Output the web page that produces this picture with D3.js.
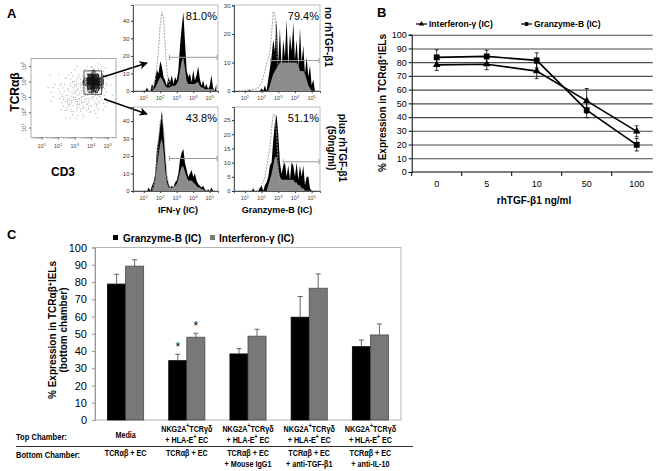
<!DOCTYPE html>
<html><head><meta charset="utf-8">
<script src="https://cdn.jsdelivr.net/npm/d3@7"></script>
<style>
body{margin:0;background:#fff}
svg{display:block}
text{font-family:"Liberation Sans",Arial,Helvetica,sans-serif}
</style>
</head><body>
<svg id="c" width="664" height="471"></svg>
<script>
// ================= DATA =================
// Panel A: histogram bins (log10 of fluorescence)
const histBins = [0.4,0.5,0.6,0.7,0.8,0.9,1.0,1.1,1.2,1.3,1.4,1.5,1.6,1.7,1.8,1.9,2.0,2.1,2.2,2.3,2.4,2.5,2.6,2.7,2.8,2.9,3.0,3.1,3.2,3.3,3.4,3.5,3.6,3.7,3.8,3.9,4.0,4.1,4.2,4.3,4.4,4.5,4.6,4.7,4.8,4.9,5.0,5.1,5.2,5.3,5.4];
const decadeTicks = [1,2,3,4,5];
const decadeLabels = ["10^1","10^2","10^3","10^4","10^5"];
// IFN-γ, no rhTGF-β1
const ifnNoCtrl = [0,0,0,0,0,0,0,0,0,0,0, 1,3,6,14,24, 38,45,42,26,12, 5,2,1,0,0, 0,0,0,0,0, 0,0,0,0,0, 0,0,0,0,0, 0,0,0,0,0, 0,0,0,0,0];
const ifnNoSample = [0,0,0,0,0,0,0,0, 2,0,0,4,2,8,12,10, 17,14,8,6,3, 8,5,9,4,8, 6,12,26,36,45, 28,12,8,10,5, 12,6,9,14,7, 3,6,2,4,1, 3,9,2,0,4];
const ifnNoSmooth = [0,0,0,0,0,0,0,0,0,0,0,0, 1,2,4,6, 8,7,5,3,2, 2,2,3,3,3, 4,6,12,17,19, 13,6,4,4,4, 4,4,5,5,3, 2,2,1,1,1, 1,1,1,0,0];
// Granzyme-B, no rhTGF-β1
const gzbNoCtrl = [0,0,0,0,0,0, 0.3,0,0.5,0,0.5, 0.5,0.5,1,1,2, 3,5,7,10,11, 14,20,28,27,16, 6,2,0.5, 0,0,0,0,0,0,0,0,0,0,0,0,0,0,0,0,0,0,0,0,0,0,0];
const gzbNoSample = [0,0,0,0,0,0,0,0,0, 0.5, 0,0,0,0,0,0, 1,0,2,0,4, 8,12,18,14,25, 10,22,8,18,12, 25,9,20,14,24, 11,18,8,22,10, 16,6,12,5,9, 2,4,0,0,0];
const gzbNoSmooth = [0,0,0,0,0,0,0,0,0,0,0,0,0,0,0,0,0,0,0,0,0, 2,4,6,7,8, 9,10,10,10,10, 10,10,10,10,10, 10,10,9,7,7, 7,6,4,2,1, 0,0,0,0,0];
// IFN-γ, plus rhTGF-β1
const ifnPlusCtrl = [0,0,0,0,0,0,0,0,0,0,0, 1,3,8,18,30, 40,42,36,22,10, 4,1, 0,0,0,0,0,0,0,0,0,0,0,0,0,0,0,0,0,0,0,0,0,0,0,0,0,0,0,0];
const ifnPlusSample = [0,0,0,0,0,0,0,0,0, 2,0,3,5,10,24,30, 38,46,34,20,8, 4,2,3,2,5, 6,10,18,22,24, 16,12,8,10,12, 8,10,6,4,3, 2,3,1,0,1, 0,2,0,0,0];
const ifnPlusSmooth = [0,0,0,0,0,0,0,0,0,0,0,0, 2,6,14,21, 27,30,23,12,5, 2,2,2,2,3, 4,7,11,14,14, 11,8,6,6,6, 5,4,3,2,2, 1,1, 0,0,0,0,0,0,0,0];
// Granzyme-B, plus rhTGF-β1
const gzbPlusCtrl = [0,0,0,0,0,0,0,0,0,0,0, 0.5,0,0,1,1, 2,3,5,8,12, 15,22,27,27,20, 8,2, 0,0,0,0,0,0,0,0,0,0,0,0,0,0,0,0,0,0,0,0,0,0,0];
const gzbPlusSample = [0,0,0,0,0,0,0,0,0,0,0, 1,0,0,0,1, 2,0,2,3,5, 9,10,18,24,27, 20,10,6,9,10, 5,9,4,10,9, 5,10,4,9,5, 9,2,5,5,1, 0,0,0,0,0];
const gzbPlusSmooth = [0,0,0,0,0,0,0,0,0,0,0,0,0,0,0,0,0,0,0,0, 2,4,6,9,12, 12,8,5,4,4, 4,4,4,4,4, 4,3,3,2,2, 1,1, 0,0,0,0,0,0,0,0,0];
const histPercents = ["81.0%","79.4%","43.8%","51.1%"];
const gateLevels = [19.2,10.7,18.6,10.3];   // height of the gate bar (counts)
const gateStarts = [2.56,2.55,2.56,3.3];    // log10 start of gate

// Panel A scatter: CD3 vs TCRαβ density cells [log x start, log y start, event count]
const scatterCells = [
 [1.0,3.5,1],[1.5,3.5,2],[1.5,3.0,2],[1.5,2.5,1],[1.5,4.0,1],
 [2.0,2.0,3],[2.0,2.5,5],[2.0,3.0,5],[2.0,3.5,5],[2.0,4.0,2],[2.0,1.5,1],
 [2.5,1.5,2],[2.5,2.0,8],[2.5,2.5,10],[2.5,3.0,7],[2.5,3.5,7],[2.5,4.0,5],[2.5,4.5,1],
 [3.0,1.5,3],[3.0,2.0,9],[3.0,2.5,12],[3.0,3.0,8],[3.0,3.5,9],[3.0,4.0,7],[3.0,4.5,2],
 [3.5,1.5,2],[3.5,2.0,7],[3.5,2.5,9],[3.5,3.0,10],[3.5,3.5,9],[3.5,4.0,9],[3.5,4.5,5],
 [4.0,1.5,2],[4.0,2.0,5],[4.0,2.5,8],[4.0,3.0,14],[4.0,4.5,7],[4.0,5.0,1],
 [4.5,2.0,2],[4.5,2.5,4],[4.5,3.0,6],[4.5,3.5,6],[4.5,4.0,5],[4.5,4.5,3],[5.0,3.0,1],[5.0,3.5,1]
];
const clusterCells = [
 [4.0,3.75,60],[4.0,4.0,60],[3.75,3.75,40],[3.75,4.0,40],[4.25,3.75,45],[4.25,4.0,45],
 [4.0,3.5,40],[4.0,4.25,35],[3.75,3.5,20],[4.25,3.5,25],[3.75,4.25,20],[4.25,4.25,20],
 [4.0,3.25,15],[4.5,3.75,12],[4.5,4.0,12],[3.5,3.75,10],[3.5,4.0,8],[4.0,4.5,10],
 [3.75,3.25,8],[4.25,3.25,10],[4.5,3.5,8],[4.5,4.25,6]
];
const gateBox = [3.56,4.63,3.17,4.69]; // x0,x1,y0,y1 (log)

// Panel B
const bCats = ["0","5","10","50","100"];
const bIfn = [78,78.5,73.5,51.8,29.6];
const bIfnErr = [4,4,5.5,9,4];
const bGzb = [83.5,84.2,81.3,45.1,19.8];
const bGzbErr = [5.5,4.5,5.5,5.5,4.5];
const bTicks = [0,10,20,30,40,50,60,70,80,90,100];

// Panel C
const cGroups = ["g1","g2","g3","g4","g5"];
const cGzb = [78.8,34.4,38.3,59.6,42.5];
const cGzbErr = [5.7,3.7,3.1,12,3.9];
const cIfn = [89.2,48,48.6,76.4,49.3];
const cIfnErr = [3.7,2.3,4,8.3,6.4];
const cSig = [[1,"gzb"],[1,"ifn"]];
const cTicks = [0,10,20,30,40,50,60,70,80,90,100];
const topChamber = [["Media"],["NKG2A^+TCRγδ","+ HLA-E^+ EC"],["NKG2A^+TCRγδ","+ HLA-E^+ EC"],["NKG2A^+TCRγδ","+ HLA-E^+ EC"],["NKG2A^+TCRγδ","+ HLA-E^+ EC"]];
const bottomChamber = [["TCRαβ + EC"],["TCRαβ + EC"],["TCRαβ + EC","+ Mouse IgG1"],["TCRαβ + EC","+ anti-TGF-β1"],["TCRαβ + EC","+ anti-IL-10"]];

// ================= HELPERS =================
const svg = d3.select("#c");
function rich(t, str, supSize){
  const re = /\^(.)/g; let last = 0, m;
  while ((m = re.exec(str))) {
    if (m.index > last) t.append("tspan").text(str.slice(last, m.index));
    t.append("tspan").attr("baseline-shift","super").attr("font-size", supSize).text(m[1]);
    last = re.lastIndex;
  }
  if (last < str.length) t.append("tspan").text(str.slice(last));
  return t;
}
function narrow(x, y, str, anchor, size){
  return rich(svg.append("text").attr("transform",`translate(${x},${y}) scale(0.8,1)`).attr("text-anchor",anchor)
    .attr("font-size",size).attr("font-weight","bold"), str, size*0.7);
}
function styleAxis(g, size, color){
  g.selectAll("text").attr("font-size", size).attr("fill", color || "#000").attr("font-family",'"Liberation Sans",Arial,sans-serif');
  g.selectAll("line").attr("stroke", color || "#000");
  g.selectAll("path.domain").attr("stroke", color || "#000");
}
const minorLogs = [];
[0,1,2,3,4,5].forEach(d => [2,3,4,5,6,7,8,9].forEach(k => { const v = d + Math.log10(k); if (v > 0.36 && v < 5.5) minorLogs.push(v); }));

// ================= PANEL A =================
svg.append("text").attr("x",7).attr("y",18).attr("font-size",13).attr("font-weight","bold").text("A");

// scatter
(function(){
  const X0=31, X1=116, Y0=58.5, Y1=137.5;
  const x = d3.scaleLinear().domain([0.35,5.5]).range([X0,X1]);
  const y = d3.scaleLinear().domain([0.35,5.5]).range([Y1,Y0]);
  const g = svg.append("g");
  g.append("rect").attr("x",X0).attr("y",Y0).attr("width",X1-X0).attr("height",Y1-Y0).attr("fill","none").attr("stroke","#999").attr("stroke-width",0.8);
  const dots = [];
  function place(cells, size, color, seed){
    cells.forEach((c, ci) => {
      for (let k = 0; k < c[2]; k++) {
        const n = k + ci * 13 + seed;
        const u = (0.5 + n * 0.7548776662) % 1;
        const v = (0.5 + n * 0.5698402910) % 1;
        dots.push({x: c[0] + u * size, y: c[1] + v * size, color});
      }
    });
  }
  place(scatterCells, 0.5, "#a5a5a5", 3);
  place(clusterCells, 0.25, "#111", 11);
  g.selectAll("rect.dot").data(dots).join("rect").attr("class","dot")
    .attr("x", d => x(d.x) - 0.5).attr("y", d => y(d.y) - 0.5)
    .attr("width", 1).attr("height", 1).attr("fill", d => d.color);
  // gate
  g.append("rect").attr("x", x(gateBox[0])).attr("y", y(gateBox[3])).attr("width", x(gateBox[1]) - x(gateBox[0])).attr("height", y(gateBox[2]) - y(gateBox[3]))
    .attr("fill","none").attr("stroke","#333").attr("stroke-width",0.8);
  // axes
  const ax = g.append("g").attr("transform",`translate(0,${Y1})`).call(d3.axisBottom(x).tickValues(decadeTicks).tickSize(2).tickFormat(""));
  styleAxis(ax, 5, "#666"); ax.select("path.domain").remove();
  const axm = g.append("g").attr("transform",`translate(0,${Y1})`).call(d3.axisBottom(x).tickValues(minorLogs).tickSize(1).tickFormat(""));
  styleAxis(axm, 5, "#888"); axm.select("path.domain").remove();
  decadeTicks.forEach((d,i) => rich(g.append("text").attr("x", x(d)).attr("y", Y1 + 10).attr("text-anchor","middle").attr("font-size",5.5).attr("fill","#444"), decadeLabels[i], 4));
  const ay = g.append("g").attr("transform",`translate(${X0},0)`).call(d3.axisLeft(y).tickValues(decadeTicks).tickSize(2).tickFormat(""));
  styleAxis(ay, 5, "#666"); ay.select("path.domain").remove();
  decadeTicks.forEach((d,i) => rich(g.append("text").attr("transform",`translate(${X0-5},${y(d)}) rotate(-90)`).attr("text-anchor","middle").attr("font-size",5.5).attr("fill","#444"), decadeLabels[i], 4));
  rich(svg.append("text").attr("transform","translate(19,92) rotate(-90)").attr("text-anchor","middle").attr("font-size",12).attr("font-weight","bold"), "TCRαβ", 8);
  svg.append("text").attr("x",63).attr("y",176).attr("text-anchor","middle").attr("font-size",12).attr("font-weight","bold").text("CD3");
})();

// arrows
const defs = svg.append("defs");
defs.append("marker").attr("id","ah").attr("viewBox","0 0 10 10").attr("refX",9).attr("refY",5).attr("markerWidth",6).attr("markerHeight",6).attr("orient","auto")
  .append("path").attr("d","M0,0 L10,5 L0,10 L3,5 z").attr("fill","#000");
svg.append("line").attr("x1",103).attr("y1",77).attr("x2",147).attr("y2",63).attr("stroke","#000").attr("stroke-width",1.4).attr("marker-end","url(#ah)");
svg.append("line").attr("x1",104).attr("y1",99).attr("x2",147).attr("y2",114).attr("stroke","#000").attr("stroke-width",1.4).attr("marker-end","url(#ah)");

function drawHist(cfg){
  const g = svg.append("g");
  const x = d3.scaleLinear().domain([0.35,5.5]).range([cfg.x0,cfg.x1]);
  const y = d3.scaleLinear().domain([0,cfg.yMax]).range([cfg.y1,cfg.y0]);
  g.append("rect").attr("x",cfg.x0).attr("y",cfg.y0).attr("width",cfg.x1-cfg.x0).attr("height",cfg.y1-cfg.y0).attr("fill","none").attr("stroke","#aaa").attr("stroke-width",0.8);
  const area = d3.area().x((d,i)=>x(histBins[i])).y0(y(0)).y1(d=>y(d));
  g.append("path").datum(cfg.samp).attr("d",area).attr("fill","#000");
  g.append("path").datum(cfg.smooth).attr("d",area).attr("fill","#8c8c8c");
  g.append("path").datum(cfg.ctrl).attr("d",d3.line().x((d,i)=>x(histBins[i])).y(d=>y(d))).attr("fill","none").attr("stroke","#999").attr("stroke-dasharray","2,1.2").attr("stroke-width",0.9);
  // gate
  const gy = y(cfg.gate), gx0 = x(cfg.gateStart), gx1 = cfg.x1 - 1;
  g.append("line").attr("x1",gx0).attr("x2",gx1).attr("y1",gy).attr("y2",gy).attr("stroke","#9a9a9a").attr("stroke-width",1);
  [gx0,gx1].forEach(v => g.append("line").attr("x1",v).attr("x2",v).attr("y1",gy-2.5).attr("y2",gy+2.5).attr("stroke","#9a9a9a").attr("stroke-width",1));
  // axes
  const ay = g.append("g").attr("transform",`translate(${cfg.x0},0)`).call(d3.axisLeft(y).tickValues(cfg.yTicks).tickSize(2).tickPadding(1.5));
  styleAxis(ay, 6, "#333"); ay.select("path.domain").attr("stroke-width",0.8);
  const ax = g.append("g").attr("transform",`translate(0,${cfg.y1})`).call(d3.axisBottom(x).tickValues(decadeTicks).tickSize(2).tickFormat(""));
  styleAxis(ax, 5, "#333"); ax.select("path.domain").attr("stroke-width",0.8);
  const axm = g.append("g").attr("transform",`translate(0,${cfg.y1})`).call(d3.axisBottom(x).tickValues(minorLogs).tickSize(1).tickFormat(""));
  styleAxis(axm, 5, "#555"); axm.select("path.domain").remove();
  decadeTicks.forEach((d,i) => rich(g.append("text").attr("x", x(d)).attr("y", cfg.y1 + 9).attr("text-anchor","middle").attr("font-size",5.5).attr("fill","#444"), decadeLabels[i], 4));
  g.append("text").attr("x",cfg.x1-1).attr("y",cfg.y0+14.5).attr("text-anchor","end").attr("font-size",11).text(cfg.pct);
}
drawHist({x0:133,x1:218,y0:5,y1:91,yMax:49,yTicks:[0,10,20,30,40],ctrl:ifnNoCtrl,samp:ifnNoSample,smooth:ifnNoSmooth,pct:histPercents[0],gate:gateLevels[0],gateStart:gateStarts[0]});
drawHist({x0:234,x1:320,y0:5,y1:91,yMax:30.2,yTicks:[0,10,20,30],ctrl:gzbNoCtrl,samp:gzbNoSample,smooth:gzbNoSmooth,pct:histPercents[1],gate:gateLevels[1],gateStart:gateStarts[1]});
drawHist({x0:133,x1:218,y0:107,y1:191,yMax:48,yTicks:[0,10,20,30,40],ctrl:ifnPlusCtrl,samp:ifnPlusSample,smooth:ifnPlusSmooth,pct:histPercents[2],gate:gateLevels[2],gateStart:gateStarts[2]});
drawHist({x0:234,x1:320,y0:107,y1:191,yMax:29.6,yTicks:[0,5,10,15,20,25],ctrl:gzbPlusCtrl,samp:gzbPlusSample,smooth:gzbPlusSmooth,pct:histPercents[3],gate:gateLevels[3],gateStart:gateStarts[3]});

rich(svg.append("text").attr("x",178).attr("y",213).attr("text-anchor","middle").attr("font-size",9).attr("font-weight","bold"), "IFN-γ (IC)", 7);
svg.append("text").attr("x",277).attr("y",213).attr("text-anchor","middle").attr("font-size",9).attr("font-weight","bold").text("Granzyme-B (IC)");
svg.append("text").attr("transform","translate(325,37) rotate(90)").attr("text-anchor","middle").attr("font-size",10).attr("font-weight","bold").text("no rhTGF-β1");
svg.append("text").attr("transform","translate(339,148) rotate(90)").attr("text-anchor","middle").attr("font-size",10).attr("font-weight","bold").text("plus rhTGF-β1");
svg.append("text").attr("transform","translate(328,148) rotate(90)").attr("text-anchor","middle").attr("font-size",10).attr("font-weight","bold").text("(50ng/ml)");

// ================= PANEL B =================
(function(){
  svg.append("text").attr("x",377).attr("y",17).attr("font-size",13).attr("font-weight","bold").text("B");
  const L = 411.7, R = 652.7, T = 34.7, Bt = 172;
  const x = d3.scaleBand().domain(bCats).range([L, L + 250]);
  const y = d3.scaleLinear().domain([0,100]).range([Bt, T]);
  const g = svg.append("g");
  const grid = g.append("g").attr("transform",`translate(${L},0)`).call(d3.axisLeft(y).tickValues(bTicks.slice(1)).tickSize(-(R-L)).tickFormat(""));
  grid.select("path.domain").remove();
  grid.selectAll("line").attr("stroke","#4a4a4a").attr("stroke-width",1.1);
  const ay = g.append("g").attr("transform",`translate(${L},0)`).call(d3.axisLeft(y).tickValues(bTicks).tickSize(3).tickPadding(2));
  styleAxis(ay, 9, "#000");
  const ax = g.append("g").attr("transform",`translate(0,${Bt})`).call(d3.axisBottom(x).tickSize(0).tickPadding(9));
  styleAxis(ax, 9, "#000"); ax.select("path.domain").attr("d",`M${L},0H${R}`);
  bCats.forEach(c => g.append("line").attr("x1",x(c)).attr("x2",x(c)).attr("y1",Bt).attr("y2",Bt+4).attr("stroke","#000"));
  const cx = c => x(c) + x.bandwidth()/2;
  function series(vals, errs, sym, size){
    const pts = bCats.map((c,i) => ({c, v: vals[i], e: errs[i]}));
    g.append("path").datum(pts).attr("d", d3.line().x(d=>cx(d.c)).y(d=>y(d.v))).attr("fill","none").attr("stroke","#000").attr("stroke-width",1.6);
    pts.forEach(d => {
      g.append("line").attr("x1",cx(d.c)).attr("x2",cx(d.c)).attr("y1",y(d.v-d.e)).attr("y2",y(d.v+d.e)).attr("stroke","#000").attr("stroke-width",0.8);
      [d.v-d.e, d.v+d.e].forEach(v => g.append("line").attr("x1",cx(d.c)-2).attr("x2",cx(d.c)+2).attr("y1",y(v)).attr("y2",y(v)).attr("stroke","#000").attr("stroke-width",0.8));
    });
    g.selectAll(null).data(pts).join("path").attr("transform", d => `translate(${cx(d.c)},${y(d.v)})`).attr("d", d3.symbol().type(sym).size(size)).attr("fill","#000");
  }
  series(bIfn, bIfnErr, d3.symbolTriangle, 24);
  series(bGzb, bGzbErr, d3.symbolSquare, 34);
  // legend
  const lg = svg.append("g");
  lg.append("line").attr("x1",416).attr("x2",427).attr("y1",24).attr("y2",24).attr("stroke","#000").attr("stroke-width",1.2);
  lg.append("path").attr("transform","translate(421.5,24)").attr("d",d3.symbol().type(d3.symbolTriangle).size(12)).attr("fill","#000");
  rich(lg.append("text").attr("x",429).attr("y",27).attr("font-size",8.5).attr("font-weight","bold"), "Interferon-γ (IC)", 7);
  lg.append("line").attr("x1",521).attr("x2",532).attr("y1",24).attr("y2",24).attr("stroke","#000").attr("stroke-width",1.2);
  lg.append("path").attr("transform","translate(526.5,24)").attr("d",d3.symbol().type(d3.symbolSquare).size(14)).attr("fill","#000");
  lg.append("text").attr("x",534).attr("y",27).attr("font-size",8.5).attr("font-weight","bold").text("Granzyme-B (IC)");
  svg.append("text").attr("x",534).attr("y",204).attr("text-anchor","middle").attr("font-size",10).attr("font-weight","bold").text("rhTGF-β1 ng/ml");
  rich(svg.append("text").attr("transform","translate(386,103) rotate(-90)").attr("text-anchor","middle").attr("font-size",10).attr("font-weight","bold"), "% Expression in TCRαβ^+IELs", 7);
})();

// ================= PANEL C =================
(function(){
  svg.append("text").attr("x",7).attr("y",239).attr("font-size",13).attr("font-weight","bold").text("C");
  const L = 95, R = 401, T = 247.5, Bt = 420;
  const x = d3.scaleBand().domain(cGroups).range([L,R]).paddingInner(0.41).paddingOuter(0.205);
  const y = d3.scaleLinear().domain([0,100]).range([Bt,T]);
  const g = svg.append("g");
  g.append("rect").attr("x",L).attr("y",T).attr("width",R-L).attr("height",Bt-T).attr("fill","none").attr("stroke","#b5b5b5").attr("stroke-width",1);
  const ay = g.append("g").attr("transform",`translate(${L},0)`).call(d3.axisLeft(y).tickValues(cTicks).tickSize(3).tickPadding(5));
  styleAxis(ay, 11, "#000"); ay.selectAll("line, path.domain").attr("stroke","#999");
  const bw = x.bandwidth()/2;
  const rows = cGroups.map((k,i) => [
    {k, key:"gzb", i:0, v:cGzb[i], e:cGzbErr[i]},
    {k, key:"ifn", i:1, v:cIfn[i], e:cIfnErr[i]}
  ]).flat();
  g.selectAll("rect.bar").data(rows).join("rect").attr("class","bar")
    .attr("x", d => x(d.k) + d.i*bw).attr("y", d => y(d.v)).attr("width", bw).attr("height", d => Bt - y(d.v))
    .attr("fill", d => d.key === "gzb" ? "#000" : "#787878").attr("stroke", d => d.key === "gzb" ? "#000" : "#4a4a4a").attr("stroke-width",0.8);
  rows.forEach(d => {
    const cx = x(d.k) + d.i*bw + bw/2;
    g.append("line").attr("x1",cx).attr("x2",cx).attr("y1",y(d.v)).attr("y2",y(d.v+d.e)).attr("stroke","#555").attr("stroke-width",0.9);
    g.append("line").attr("x1",cx-2.5).attr("x2",cx+2.5).attr("y1",y(d.v+d.e)).attr("y2",y(d.v+d.e)).attr("stroke","#555").attr("stroke-width",0.9);
  });
  const sig = g.append("g").attr("opacity",0.99);
  cSig.forEach(([gi,key]) => {
    const d = rows.find(r => r.k === cGroups[gi] && r.key === key);
    sig.append("text").attr("transform",`translate(${x(d.k) + d.i*bw + bw/2},${y(d.v+d.e) - 3}) scale(1.001)`).attr("text-anchor","middle")
      .attr("font-size",12).attr("fill","#000").text("*");
  });
  // legend
  svg.append("rect").attr("x",113).attr("y",235).attr("width",5).attr("height",5).attr("fill","#000");
  svg.append("text").attr("x",123).attr("y",241.5).attr("font-size",10).attr("font-weight","bold").text("Granzyme-B (IC)");
  svg.append("rect").attr("x",210).attr("y",235).attr("width",5).attr("height",5).attr("fill","#787878");
  rich(svg.append("text").attr("x",219).attr("y",241.5).attr("font-size",10).attr("font-weight","bold"), "Interferon-γ (IC)", 8);
  // y title
  rich(svg.append("text").attr("transform","translate(56,330) rotate(-90)").attr("text-anchor","middle").attr("font-size",10).attr("font-weight","bold"), "% Expression in TCRαβ^+IELs", 7);
  svg.append("text").attr("transform","translate(67,330) rotate(-90)").attr("text-anchor","middle").attr("font-size",10).attr("font-weight","bold").text("(bottom chamber)");
  // table
  const cx = k => x(k) + x.bandwidth()/2;
  narrow(16, 440, "Top Chamber:", "start", 9.5);
  narrow(16, 457.5, "Bottom Chamber:", "start", 9.5);
  svg.append("line").attr("x1",16).attr("x2",413).attr("y1",446.5).attr("y2",446.5).attr("stroke","#333").attr("stroke-width",1);
  topChamber.forEach((lines,i) => {
    const ys = lines.length === 1 ? [437.5] : [431.5, 442.5];
    lines.forEach((s,j) => narrow(cx(cGroups[i]), ys[j], s, "middle", 9));
  });
  bottomChamber.forEach((lines,i) => {
    lines.forEach((s,j) => narrow(cx(cGroups[i]), [455.5,466.5][j], s, "middle", 9));
  });
})();
</script>
</body></html>
